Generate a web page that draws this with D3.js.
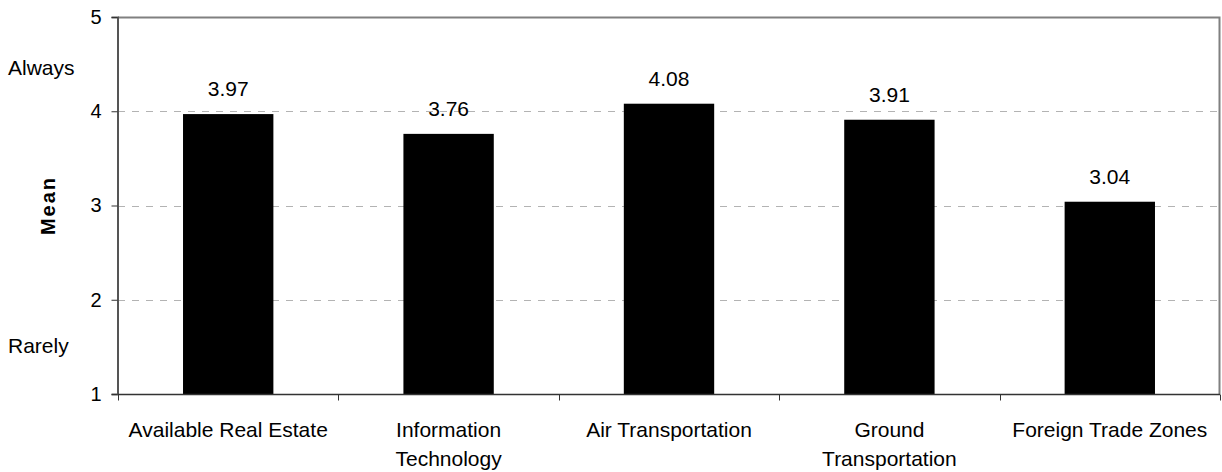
<!DOCTYPE html>
<html>
<head>
<meta charset="utf-8">
<script src="https://cdn.jsdelivr.net/npm/d3@7"></script>
<style>
  body { margin: 0; background: #fff; }
  text { font-family: "Liberation Sans", Arial, sans-serif; fill: #000; }
</style>
</head>
<body>
<div id="chart"></div>
<script>
var categories = [
  ["Available Real Estate"],
  ["Information", "Technology"],
  ["Air Transportation"],
  ["Ground", "Transportation"],
  ["Foreign Trade Zones"]
];
var means = [3.97, 3.76, 4.08, 3.91, 3.04];
var yTicks = [1, 2, 3, 4, 5];
var gridTicks = [2, 3, 4];
var scaleNotes = [{label: "Always", value: 4.385}, {label: "Rarely", value: 1.435}];

var props = {
  width: 1222,
  height: 472,
  marginTop: 17,
  marginRight: 2,
  marginBottom: 78,
  marginLeft: 118
};

var svg = d3.select("#chart").append("svg")
  .attr("width", props.width)
  .attr("height", props.height);

var x = d3.scaleBand()
  .domain(d3.range(categories.length))
  .range([props.marginLeft, props.width - props.marginRight])
  .paddingInner(0.59)
  .paddingOuter(0.295);

var xEdge = d3.scaleLinear()
  .domain([0, categories.length])
  .range([props.marginLeft, props.width - props.marginRight]);

var y = d3.scaleLinear()
  .domain([1, 5])
  .range([props.height - props.marginBottom, props.marginTop]);

// grid
svg.append("g").selectAll("line")
  .data(gridTicks)
  .enter().append("line")
  .attr("x1", props.marginLeft)
  .attr("x2", props.width - props.marginRight)
  .attr("y1", function(d){ return Math.round(y(d)) + 0.5; })
  .attr("y2", function(d){ return Math.round(y(d)) + 0.5; })
  .style("stroke", "#b3b3b3")
  .style("stroke-dasharray", "7,7");

// frame top / right
svg.append("path")
  .attr("d", "M" + props.marginLeft + "," + (y(5) + 0.5) +
             "H" + (props.width - props.marginRight - 0.5) +
             "V" + y(1))
  .style("fill", "none")
  .style("stroke", "#808080")
  .style("stroke-width", 2);

// bars
svg.append("g").selectAll("rect")
  .data(means)
  .enter().append("rect")
  .attr("x", function(d, i){ return x(i); })
  .attr("width", x.bandwidth())
  .attr("y", function(d){ return y(d); })
  .attr("height", function(d){ return y(1) - y(d); })
  .style("fill", "#000");

// value labels
svg.append("g").selectAll("text")
  .data(means)
  .enter().append("text")
  .attr("x", function(d, i){ return x(i) + x.bandwidth() / 2; })
  .attr("y", function(d){ return y(d) - 18; })
  .attr("text-anchor", "middle")
  .style("font-size", "21px")
  .text(function(d){ return d.toFixed(2); });

// y axis
var yAxis = svg.append("g")
  .attr("transform", "translate(" + (props.marginLeft - 0.5) + ",0)")
  .call(d3.axisLeft(y).tickValues(yTicks).tickSize(6).tickPadding(10).tickFormat(d3.format("d")));
yAxis.select(".domain").style("stroke", "#555").style("stroke-width", 2);
yAxis.selectAll(".tick line").style("stroke", "#333");
yAxis.selectAll(".tick text")
  .style("font-size", "20px")
  .style("font-family", "'Liberation Sans', Arial, sans-serif");

// x axis line and ticks
var xAxis = svg.append("g")
  .attr("transform", "translate(0," + (y(1) + 0.5) + ")");
xAxis.append("line")
  .attr("x1", props.marginLeft)
  .attr("x2", props.width - props.marginRight)
  .style("stroke", "#333")
  .style("stroke-width", 1.5);
xAxis.selectAll(".xtick")
  .data(d3.range(categories.length + 1))
  .enter().append("line")
  .attr("class", "xtick")
  .attr("x1", function(d){ return Math.round(xEdge(d)) + 0.5; })
  .attr("x2", function(d){ return Math.round(xEdge(d)) + 0.5; })
  .attr("y1", 0)
  .attr("y2", 6)
  .style("stroke", "#333");

var catLabels = svg.append("g").selectAll("text")
  .data(categories)
  .enter().append("text")
  .attr("text-anchor", "middle")
  .style("font-size", "21px");
catLabels.each(function(lines, i){
  var t = d3.select(this);
  lines.forEach(function(l, j){
    t.append("tspan")
      .attr("x", x(i) + x.bandwidth() / 2)
      .attr("y", y(1) + 43 + j * 29)
      .text(l);
  });
});

// scale notes
svg.append("g").selectAll("text")
  .data(scaleNotes)
  .enter().append("text")
  .attr("x", 8)
  .attr("y", function(d){ return y(d.value); })
  .style("font-size", "21px")
  .text(function(d){ return d.label; });

// axis title
svg.append("text")
  .attr("transform", "translate(55," + y(3) + ") rotate(-90)")
  .attr("text-anchor", "middle")
  .style("font-size", "20px")
  .style("font-weight", "bold")
  .style("letter-spacing", "2px")
  .text("Mean");
</script>
</body>
</html>
